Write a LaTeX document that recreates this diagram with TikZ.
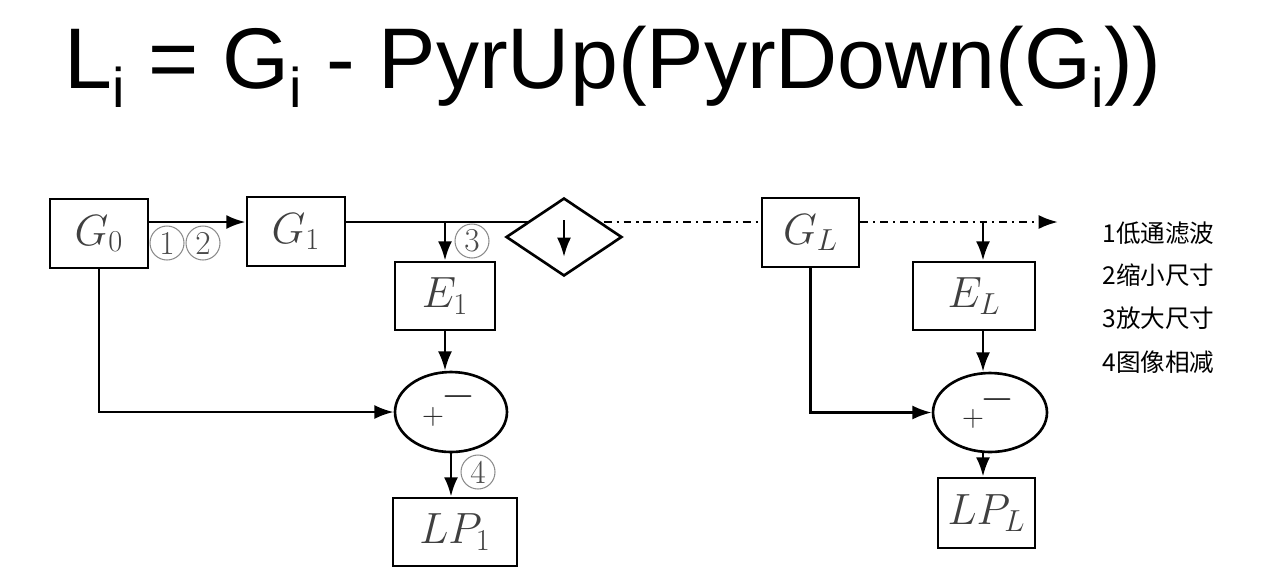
\documentclass[tikz,border=0pt]{standalone}
\usepackage{fontspec}
\usepackage{graphicx}
\newfontfamily\titlefont{Liberation Sans}
\newfontfamily\cjkfont{Noto Sans CJK SC}
\usetikzlibrary{shapes.geometric, arrows.meta, backgrounds}
\newcommand{\lowi}{\raisebox{-0.23em}{\scalebox{0.65}{i}}}
\tikzset{
  box/.style={draw, line width=1.6pt, inner sep=0pt, minimum height=1.38cm, font=\fontsize{23}{23}\selectfont, text=black!75},
  sub/.style={draw, ellipse, line width=1.5pt, inner sep=0pt},
  pm/.style={inner sep=0pt, text=black!85},
  num/.style={circle, draw=black!45, line width=0.6pt, inner sep=0pt, minimum size=0.68cm, font=\fontsize{19}{19}\selectfont, text=black!70},
  flow/.style={line width=1.5pt, -{Latex[length=11pt,width=8pt]}},
  chainline/.style={line width=1.5pt, dash pattern=on 4.5pt off 2.8pt on 1.2pt off 2.8pt},
  legend/.style={anchor=west, inner sep=0pt, font=\cjkfont\fontsize{14}{14}\selectfont}
}
\begin{document}
\begin{tikzpicture}[x=0.02cm, y=-0.02cm]
\useasboundingbox (0,0) rectangle (1264,586);
\node[anchor=base, inner sep=0pt, font=\titlefont\fontsize{49}{49}\selectfont] (title) at (613,88) {\resizebox{21.94cm}{!}{L\lowi{} = G\lowi{} - PyrUp(PyrDown(G\lowi))}};
\coordinate (top) at (0,222);
\coordinate (colL) at (983,0);
\coordinate (end) at (1058,222);
\node[box, minimum width=1.96cm] (G0) at (99,233.5) {$G_0$};
\node[box, minimum width=1.96cm] (G1) at (296,231.5) {$G_1$};
\node[draw, diamond, fill=white, line width=1.5pt, aspect=1.49, minimum width=2.32cm, minimum height=1.56cm, inner sep=0pt] (dia) at (564,237) {};
\node[box, minimum width=1.94cm] (GL) at (810.5,232.5) {$G_L$};
\node[box, minimum width=2cm, minimum height=1.36cm] (E1) at (445,296) {$E_1$};
\node[box, minimum width=2.44cm, minimum height=1.36cm] (EL) at (974,296) {$E_L$};
\node[sub, minimum width=2.24cm, minimum height=1.6cm] (s1) at (451,412) {};
\node[sub, minimum width=2.28cm, minimum height=1.58cm] (sL) at (990,412.5) {};
\node[box, minimum width=2.48cm, minimum height=1.36cm] (LP1) at (455,532) {$LP_1$};
\node[box, minimum width=1.94cm, minimum height=1.4cm] (LPL) at (986.5,513) {$LP_L$};
\node[pm, font=\fontsize{17}{17}\selectfont] (p1) at (433,417) {$+$};
\node[pm, font=\fontsize{25}{25}\selectfont] (m1) at (458,397) {$-$};
\node[pm, font=\fontsize{17}{17}\selectfont] (pL) at (973,419) {$+$};
\node[pm, font=\fontsize{25}{25}\selectfont] (mL) at (997,400) {$-$};
\node[num] (n1) at (167,243) {1};
\node[num] (n2) at (203,243) {2};
\node[num] (n3) at (472,241) {3};
\node[num] (n4) at (478,472) {4};
\node[legend] (l1) at (1102,233) {1低通滤波};
\node[legend] (l2) at (1102,275) {2缩小尺寸};
\node[legend] (l3) at (1102,318) {3放大尺寸};
\node[legend] (l4) at (1102,362) {4图像相减};
\begin{scope}[on background layer]
\draw[flow] (G0.east|-top) -- (G1.west|-top);
\draw[line width=1.5pt] (G1.east|-top) -- (dia.center|-top);
\draw[chainline] (dia.center|-top) -- (GL.west|-top);
\draw[flow, chainline] (GL.east|-top) -- (end);
\end{scope}
\draw[flow] ([yshift=0.34cm]dia.center) -- ([yshift=-0.4cm]dia.center);
\draw[flow] (E1.north|-top) -- (E1.north);
\draw[flow] (colL|-top) -- (colL|-EL.north);
\draw[flow] (E1.south) -- (E1.south|-s1.north);
\draw[flow] (G0.south) |- (s1.west);
\draw[flow] (s1.south) -- (s1.south|-LP1.north);
\draw[flow] (colL|-EL.south) -- (colL|-sL.north);
\draw[flow] (GL.south) |- (sL.west);
\draw[flow] (colL|-sL.south) -- (colL|-LPL.north);
\end{tikzpicture}
\end{document}
